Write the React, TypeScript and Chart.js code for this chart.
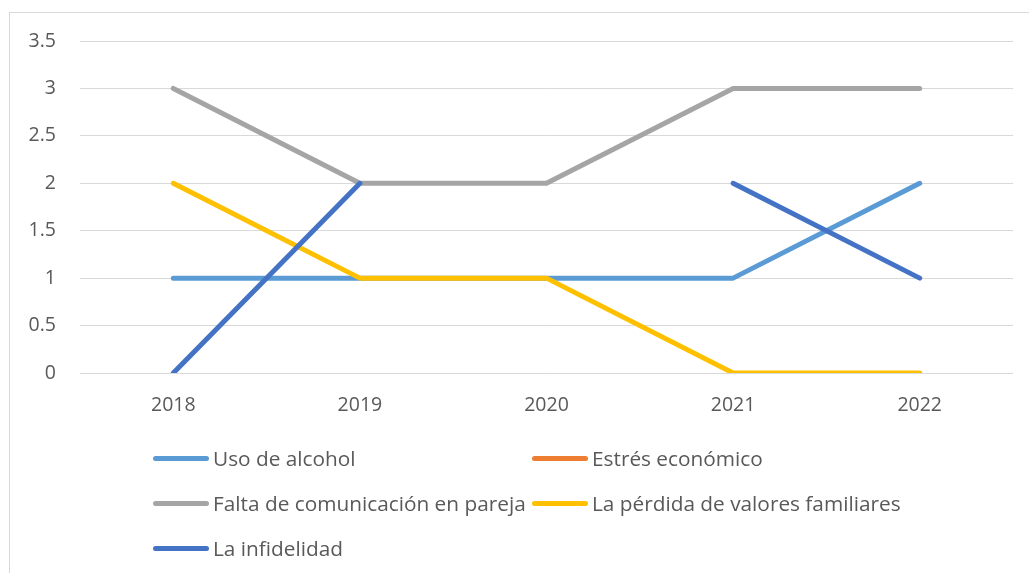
import React, { useEffect, useRef } from "react";
import { Chart, registerables } from "chart.js";

Chart.register(...registerables);

const categories = ["2018", "2019", "2020", "2021", "2022"];
const usoAlcohol: (number | null)[] = [1, 1, 1, 1, 2];
const estresEconomico: (number | null)[] = [null, null, null, null, null];
const faltaComunicacion: (number | null)[] = [3, 2, 2, 3, 3];
const perdidaValores: (number | null)[] = [2, 1, 1, 0, 0];
const infidelidad: (number | null)[] = [0, 2, null, 2, 1];
const seriesNames = [
  "Uso de alcohol",
  "Estrés económico",
  "Falta de comunicación en pareja",
  "La pérdida de valores familiares",
  "La infidelidad",
];
const seriesColors = ["#5B9BD5", "#ED7D31", "#A5A5A5", "#FFC000", "#4472C4"];
const seriesValues = [usoAlcohol, estresEconomico, faltaComunicacion, perdidaValores, infidelidad];

const FONT = "'Open Sans', 'Noto Sans', sans-serif";
const TEXT = "#595959";

export default function App() {
  const ref = useRef<HTMLCanvasElement | null>(null);

  useEffect(() => {
    if (!ref.current) return;
    const chart = new Chart(ref.current, {
      type: "line",
      data: {
        labels: categories,
        datasets: seriesValues.map((vals, i) => ({
          label: seriesNames[i],
          data: vals,
          order: seriesValues.length - i,
          borderColor: seriesColors[i],
          backgroundColor: seriesColors[i],
          borderWidth: 5,
          borderCapStyle: "round" as const,
          borderJoinStyle: "round" as const,
          pointRadius: 0,
          pointHoverRadius: 0,
          tension: 0,
          spanGaps: false,
          fill: false,
        })),
      },
      options: {
        responsive: false,
        animation: false,
        layout: { padding: { left: 0, right: 16, top: 41, bottom: 0 } },
        plugins: { legend: { display: false }, tooltip: { enabled: false } },
        scales: {
          x: {
            offset: true,
            grid: { display: false, drawTicks: false },
            border: { display: false },
            ticks: { color: TEXT, font: { family: FONT, size: 19.5 }, padding: 21, maxRotation: 0 },
            afterFit: (s: any) => {
              s.height = 200;
            },
          },
          y: {
            min: 0,
            max: 3.5,
            ticks: {
              stepSize: 0.5,
              color: TEXT,
              font: { family: FONT, size: 19.5 },
              padding: 24,
              callback: (v: any) => String(Number(v)),
            },
            grid: { color: "#d9d9d9", lineWidth: 1, drawTicks: false },
            border: { display: false },
            afterFit: (s: any) => {
              s.width = 80;
            },
          },
        },
      },
    });
    return () => chart.destroy();
  }, []);

  return (
    <div style={{ position: "fixed", left: 0, top: 0, width: 1029, height: 573, background: "#fff", overflow: "hidden" }}>
      <div
        style={{
          position: "absolute",
          left: 9,
          top: 12,
          width: 1040,
          height: 600,
          border: "1px solid #d9d9d9",
          boxSizing: "border-box",
        }}
      />
      <canvas ref={ref} width={1029} height={573} style={{ position: "absolute", left: 0, top: 0, width: 1029, height: 573 }} />
      {seriesNames.map((name, i) => {
        const col = i % 2;
        const row = Math.floor(i / 2);
        return (
          <div
            key={name}
            style={{
              position: "absolute",
              left: 153 + col * 379,
              top: 458 + row * 45 - 15,
              height: 30,
              display: "flex",
              alignItems: "center",
              whiteSpace: "nowrap",
              fontFamily: FONT,
              fontSize: 20.8,
              color: TEXT,
            }}
          >
            <span
              style={{
                display: "inline-block",
                width: 56,
                height: 5,
                borderRadius: 3,
                background: seriesColors[i],
                marginRight: 4,
              }}
            />
            <span>{name}</span>
          </div>
        );
      })}
    </div>
  );
}
